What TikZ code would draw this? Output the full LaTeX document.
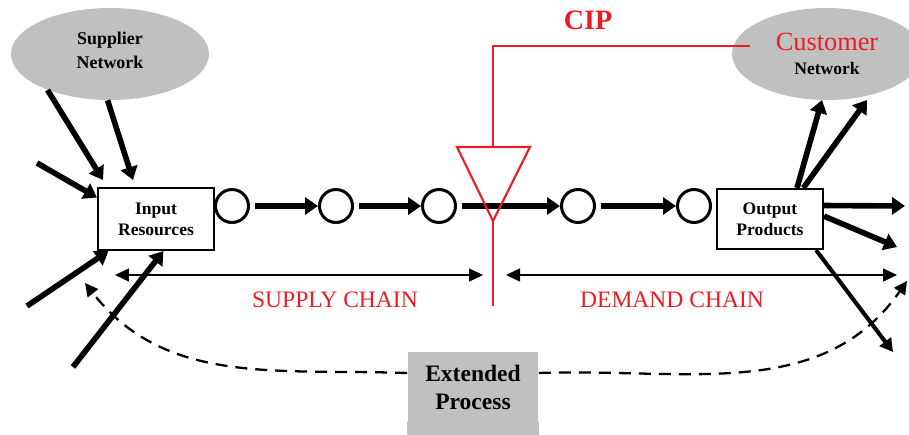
\documentclass[tikz,border=0pt]{standalone}
\usepackage{fontspec}
\setmainfont{Liberation Serif}
\usetikzlibrary{arrows.meta,shapes.geometric,calc}
\definecolor{netgray}{HTML}{C0C0C0}
\definecolor{cipred}{HTML}{ED1C24}

\begin{document}
\begin{tikzpicture}[x=0.02cm, y=0.02cm, line join=miter,
	net/.style={ellipse, fill=netgray, inner sep=0pt, align=center, minimum height=1.84cm},
	stage/.style={draw, line width=1.2pt, fill=white, inner sep=0pt, align=center,
		font=\bfseries\fontsize{10}{12}\selectfont},
	dot/.style={circle, draw, line width=1.7pt, minimum size=0.66cm, inner sep=0pt},
	flow/.style={line width=3.2pt, -{Triangle[length=2.6mm,width=3.4mm]}},
	thinflow/.style={line width=2.3pt, -{Triangle[length=2.6mm,width=2.8mm]}},
	span/.style={line width=0.9pt, {Triangle[length=2.8mm,width=2.6mm]}-{Triangle[length=2.8mm,width=2.6mm]}},
	loopline/.style={line width=1.3pt, dash pattern=on 2.4mm off 1.6mm, -{Triangle[length=2.6mm,width=2.6mm]}},
	cipline/.style={draw=cipred, line width=1.2pt},
	chaintext/.style={text=cipred, font=\fontsize{13.4}{16}\selectfont}]
	\useasboundingbox (0,0) rectangle (909,-435);
	% free ends
	\coordinate (s1) at (103,-180); \coordinate (s2) at (133,-180);
	\coordinate (w1) at (37,-163); \coordinate (w2) at (27,-306); \coordinate (w3) at (73,-367);
	\coordinate (n1) at (822,-100); \coordinate (n2) at (867,-100);
	\coordinate (e1) at (905,-206); \coordinate (e2) at (897,-247); \coordinate (e3) at (893,-352);
	\coordinate (sl) at (115,-275); \coordinate (sr) at (483,-275);
	\coordinate (dl) at (506,-275); \coordinate (dr) at (897,-275);
	\coordinate (lp) at (85,-283); \coordinate (rp) at (907,-281);
	\coordinate (cipEnd) at (750,-46);
	
	% networks
	\node[net, minimum width=3.96cm, font=\bfseries\fontsize{10.2}{13.6}\selectfont] (sup) at (110,-54)
		{\raisebox{4pt}{Supplier}\\\raisebox{4pt}{Network}};
	\node[net, minimum width=3.8cm] (cus) at (827,-54)
		{\textcolor{cipred}{\fontsize{15}{17}\selectfont Customer}\\[2pt]{\bfseries\fontsize{10}{12}\selectfont Network}};
	
	% stages
	\node[stage, minimum width=2.32cm, minimum height=1.24cm] (inp) at (156,-219) {Input\\Resources};
	\node[stage, minimum width=2.12cm, minimum height=1.2cm] (outp) at (770,-219) {Output\\Products};
	\foreach \i/\x in {1/232,2/336,3/439,4/578,5/694}{
		\node[dot] (c\i) at (\x,-206) {};
	}
	\foreach \a/\b in {1/2,2/3,3/4,4/5}{
		\draw[flow, shorten <=3pt] (c\a) -- (c\b);
	}
	
	% decoupling point
	\draw[cipline] (457,-147) -- (530,-147) -- (493,-221) coordinate (decTip) -- cycle;
	\coordinate (decTop) at (493,-147);
	\draw[cipline] (decTop) |- (cipEnd);
	\draw[cipline] (decTip) -- (493,-306);
	\node[text=cipred, font=\bfseries\fontsize{16}{19}\selectfont] (cip) at (588,-20) {CIP};
	
	% inputs
	\draw[flow] (sup.210) -- (s1);
	\draw[flow] (sup.267) -- (s2);
	\draw[flow] (w1) -- (inp.160);
	\draw[flow] (w2) -- (inp.214);
	\draw[flow] (w3) -- (inp.283);
	
	% outputs
	\draw[flow] (outp.49) -- (n1);
	\draw[flow] (outp.43) -- (n2);
	\draw[flow] (outp.14) -- (e1);
	\draw[flow] (outp.3) -- (e2);
	\draw[thinflow] (outp.-34) -- (e3);
	
	% chains
	\draw[span] (sl) -- (sr);
	\draw[span] (dl) -- (dr);
	\node[chaintext] (supply) at (335,-300) {SUPPLY CHAIN};
	\node[chaintext] (demand) at (672,-300) {DEMAND CHAIN};
	
	% extended process
	\node[fill=netgray, minimum width=2.62cm, minimum height=1.42cm, inner sep=0pt, align=center,
		font=\bfseries\fontsize{13.4}{15.5}\selectfont] (ext) at (473,-387.5) {Extended\\Process};
	\fill[netgray] ([yshift=0.5pt]ext.south west) rectangle ($(ext.south east)+(0,-40)$);
	\draw[loopline] ([yshift=0.29cm]ext.west) to[out=178, in=-52] (lp);
	\draw[loopline] ([yshift=0.29cm]ext.east) to[out=2, in=-125] (rp);
\end{tikzpicture}
\end{document}
